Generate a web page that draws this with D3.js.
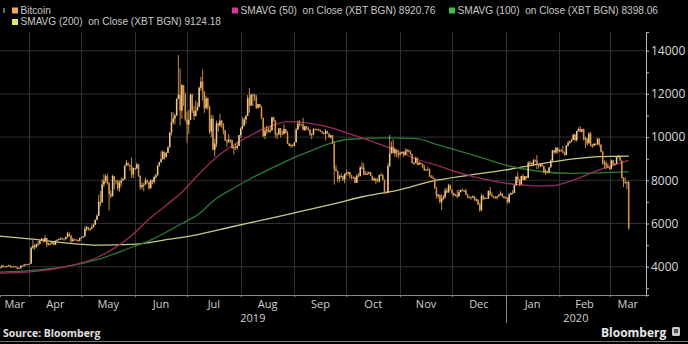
<!DOCTYPE html>
<html><head><meta charset="utf-8">
<script src="https://cdn.jsdelivr.net/npm/d3@7"></script>
<style>
body{margin:0;background:#000;}
svg{display:block;font-family:"Open Sans","DejaVu Sans",sans-serif;}
</style>
</head><body>
<svg id="chart" width="688" height="344"></svg>
<script>
// ---------------- DATA ----------------
const startDate = "2019-03-15";
// daily closes (USD), 2019-03-15 .. 2020-03-12
const closes = [
 3960,4050,4000,3990,4030,4060,3990,4000,4010,3990,3910,3930,4050,4030,4100,4110,4110,
 4140,4880,4970,4900,5040,5060,5200,5290,5170,5330,5020,5060,5060,5130,5020,5200,5240,5280,5270,5310,5280,5370,5530,5420,5180,5260,5250,5240,5190,5320,
 5350,5400,5750,5830,5750,5750,5830,5940,6170,6360,7000,6970,7810,7980,8190,7880,7360,7260,8190,7990,7950,7630,7880,7990,8050,8670,8810,8720,8660,8270,8560,
 8550,8740,8210,7690,7780,7800,8000,7930,7630,8000,7920,8150,8230,8690,8840,8980,9320,9080,9270,9530,10210,10670,10860,11000,11780,11960,11220,12410,11960,10820,
 10580,10800,11960,11220,10970,11230,11400,12280,12570,12100,11340,11800,11390,10260,10850,9420,9700,10630,10530,10760,10590,10320,9840,9770,9880,9850,9480,9530,9500,9590,10090,
 10400,10520,10820,10980,11800,11460,11950,11970,11850,11350,11530,11380,10890,10050,10300,10360,10230,10310,10920,10760,10130,10130,10410,10140,10140,10370,10190,9700,9590,9630,9600,
 9760,10350,10620,10590,10580,10320,10490,10410,10340,10120,10140,10370,10360,10360,10310,10260,10190,10160,10280,10170,9990,10090,9690,8530,8430,8060,8180,8200,8040,8290,
 8340,8380,8230,8160,8150,7880,8210,8200,8590,8590,8260,8300,8300,8370,8210,8000,8070,7960,7950,8240,8230,8020,7470,7430,8660,9250,9550,9260,9430,9210,9200,
 9260,9320,9180,9340,9400,9340,9210,8810,8810,9040,8730,8810,8760,8620,8460,8490,8500,8180,8120,8080,7630,7280,7330,7000,7140,7220,7530,7440,7760,7570,
 7420,7320,7320,7250,7450,7550,7510,7520,7340,7220,7200,7190,7250,7070,7110,6880,6620,7280,7150,7190,7150,7510,7320,7250,7190,7200,7250,7320,7390,7250,7190,
 7200,6990,7340,7410,7410,7770,8160,8040,7810,8200,8020,8190,8110,8810,8810,8720,8930,8920,8700,8660,8740,8660,8380,8430,8370,8600,8910,9390,9290,9510,9350,
 9390,9340,9290,9180,9610,9730,9800,9870,10120,9860,10280,10370,10250,10370,9900,9930,9710,10160,9600,9610,9690,9660,9920,9650,9320,8790,8790,8670,8600,
 8530,8920,8760,8760,9080,9130,8910,8110,7920,7910,7910,5800
];
const highs = [
 3990,4060,4060,4020,4050,4090,4080,4020,4020,4020,4000,3950,4060,4060,4120,4140,4120,
 4170,4930,5240,5060,5060,5200,5230,5340,5300,5460,5340,5110,5120,5160,5140,5220,5270,5320,5380,5340,5310,5400,5620,5600,5480,5340,5300,5290,5250,5340,
 5400,5420,5880,5880,5840,5800,5960,6000,6180,6420,7330,7500,8050,8290,8270,8300,7920,7520,8260,8100,8000,8030,7990,8130,8130,8700,8950,8820,8720,9070,8580,
 8590,8820,8740,8210,7910,7880,8130,8040,7930,8040,8030,8220,8310,8690,8860,9350,9390,9320,9300,9580,10230,11160,11150,11080,11780,13800,13180,12450,12390,12060,
 11180,11250,12030,12000,11440,11700,11600,12340,12790,13130,12130,11920,11830,11460,11020,11020,9920,10760,10670,11080,10790,10650,10310,9900,10140,9900,9890,9630,9690,9760,10110,
 10460,10910,10910,11040,11950,12270,12010,12000,11990,11960,11530,11540,11450,10890,10440,10520,10460,10500,10930,10940,10790,10220,10430,10420,10300,10600,10380,10280,9730,9690,9670,
 9770,10440,10770,10780,10610,10900,10540,10520,10480,10380,10180,10420,10400,10390,10370,10350,10270,10240,10380,10300,10170,10090,10100,9800,8720,8460,8250,8330,8230,8330,
 8500,8400,8390,8210,8170,8170,8300,8330,8670,8830,8790,8420,8400,8400,8390,8210,8140,8120,8090,8260,8350,8300,8040,7490,8800,10100,9800,9890,9520,9430,9410,
 9310,9330,9340,9480,9470,9420,9380,9220,8850,9100,9050,8880,8820,8790,8710,8510,8620,8540,8240,8220,8110,7700,7380,7330,7350,7320,7650,7630,7840,7820,
 7570,7420,7370,7540,7570,7580,7620,7550,7610,7380,7270,7260,7310,7270,7170,7120,6960,7380,7340,7220,7180,7520,7690,7440,7270,7280,7270,7370,7500,7390,7280,
 7250,7210,7400,7430,7550,7780,8210,8400,8050,8210,8290,8190,8200,8880,8900,8820,9000,8970,9170,8750,8780,8810,8680,8530,8430,8600,8970,9400,9410,9540,9530,
 9440,9450,9600,9340,9640,9830,9840,9930,10130,10160,10300,10450,10510,10380,10390,10020,9970,10230,10240,9680,9730,9700,9960,9950,9660,9370,8930,8900,8790,
 8630,8970,8900,8790,9120,9170,9160,8910,8150,8140,7950,7970
];
const lows = [
 3920,3950,3980,3970,3980,4020,3950,3980,3990,3970,3880,3900,3920,4010,4020,4090,4080,
 4100,4140,4800,4780,4880,4950,5030,5180,5110,5140,4900,4980,5020,5040,4990,5000,5180,5220,5240,5250,5200,5260,5340,5390,5100,5160,5200,5210,5140,5180,
 5310,5350,5400,5650,5670,5660,5740,5860,5940,6140,6360,6800,6970,7680,7860,7800,6600,7180,7270,7580,7810,7510,7470,7710,7970,8030,8670,8650,8440,8100,8100,
 8470,8520,8160,7560,7590,7490,7800,7840,7560,7640,7810,7840,8060,8220,8630,8820,8950,8960,9060,9270,9530,10070,10590,10580,10980,11740,10550,10850,11440,10730,
 9740,10150,10790,11110,10800,11040,11250,11390,12150,11680,11120,11280,11260,10150,9990,9380,9100,9540,10250,10480,10430,10120,9830,9550,9760,9720,9470,9200,9400,9420,9590,
 9960,10360,10520,10620,11000,11130,11440,11440,11680,11300,11330,11380,10830,10000,9900,10120,10200,10220,10300,10720,9980,9910,10080,9980,10100,10140,10170,9670,9580,9510,9530,
 9590,9750,10320,10480,10530,10320,10290,10340,10290,10050,9900,10080,10320,10320,10270,10240,10150,10130,9840,10150,9970,9920,9680,7800,8400,7900,7920,8120,7970,7860,
 8210,8220,8080,8040,8060,7870,7880,8150,8170,8500,8230,8260,8250,8270,8200,7980,7970,7840,7930,7900,8190,8000,7410,7370,7450,8620,9240,9240,9090,9070,9010,
 9100,9220,9080,9150,9180,9290,9170,8770,8720,8790,8700,8700,8730,8580,8430,8450,8470,8150,8090,8060,7620,7150,7160,6930,6620,7080,7150,7390,7430,7530,
 7310,7250,7270,7150,7250,7440,7500,7450,7320,7170,7150,7110,7230,7060,7030,6860,6540,6560,7080,7120,7130,7140,7300,7230,7160,7170,7120,7250,7310,7210,7150,
 7170,6920,6930,7320,7360,7410,7760,7880,7740,7780,8010,7990,8080,8100,8670,8650,8690,8820,8520,8540,8600,8630,8310,8260,8310,8320,8580,8880,9230,9220,9240,
 9300,9320,9250,9130,9160,9570,9690,9760,9860,9800,9790,10250,10230,10210,9840,9500,9600,9700,9570,9500,9570,9610,9650,9570,9290,8730,8550,8500,8570,
 8480,8520,8660,8690,8760,9040,8880,8090,7690,7820,7580,5700
];

const sma50Dates = ["2019-03-15","2019-04-03","2019-04-22","2019-05-11","2019-05-30","2019-06-09","2019-06-19","2019-06-28","2019-07-08","2019-07-17","2019-07-27","2019-08-06","2019-08-16","2019-08-29","2019-09-10","2019-09-23","2019-10-03","2019-10-24","2019-11-12","2019-11-24","2019-12-03","2019-12-22","2020-01-11","2020-01-27","2020-02-09","2020-02-24","2020-03-12"];
const sma50Values = [3700,3770,4000,4460,5450,6200,6850,7450,8300,9000,9600,10050,10450,10720,10640,10420,10150,9560,8940,8650,8400,8010,7780,7740,8010,8480,8920];

const sma100Dates = ["2019-03-15","2019-04-03","2019-04-22","2019-05-11","2019-05-30","2019-06-09","2019-06-19","2019-06-28","2019-07-08","2019-07-17","2019-07-27","2019-08-06","2019-08-16","2019-08-29","2019-09-10","2019-09-23","2019-10-03","2019-10-27","2019-11-10","2019-11-23","2019-12-01","2019-12-12","2019-12-20","2020-01-01","2020-01-20","2020-02-08","2020-02-24","2020-03-12"];
const sma100Values = [3750,3830,4000,4350,4900,5200,5600,6000,6450,7100,7600,8050,8450,8950,9350,9750,9900,9960,9930,9640,9450,9200,9000,8700,8420,8320,8340,8398];

const sma200Dates = ["2019-03-15","2019-04-03","2019-04-22","2019-05-11","2019-05-30","2019-06-19","2019-07-08","2019-07-27","2019-08-16","2019-09-04","2019-09-23","2019-10-11","2019-10-31","2019-11-19","2019-12-12","2020-01-01","2020-01-20","2020-02-08","2020-02-24","2020-03-12"];
const sma200Values = [5420,5280,5100,5000,5030,5250,5500,5850,6200,6550,6900,7250,7550,7950,8250,8480,8750,8980,9100,9124];

const yTickValues = [3000,4000,5000,6000,7000,8000,9000,10000,11000,12000,13000,14000];
const yLabelValues = [4000,6000,8000,10000,12000,14000];
const monthLabels = ["Mar","Apr","May","Jun","Jul","Aug","Sep","Oct","Nov","Dec","Jan","Feb","Mar"];
const yearLabels = ["2019","2020"];
const legendTexts = ["Bitcoin","SMAVG (50)  on Close (XBT BGN) 8920.76","SMAVG (100)  on Close (XBT BGN) 8398.06","SMAVG (200)  on Close (XBT BGN) 9124.18"];
const sourceText = "Source: Bloomberg";
const brandText = "Bloomberg";

// ---------------- DRAW ----------------
const svg = d3.select("#chart");
const W = 688, H = 344;
const L = 0, R = 646, T = 32, B = 295;
const parse = d3.utcParse("%Y-%m-%d");
const d0 = parse(startDate);

const x = d3.scaleUtc().domain([parse("2019-03-15"), parse("2020-03-22")]).range([L, R]);
const y = d3.scaleLinear().domain([2690, 14866]).range([B, T]);

svg.append("rect").attr("width", W).attr("height", H).attr("fill", "#000");

const defs = svg.append("defs");
defs.append("clipPath").attr("id", "plotclip").append("rect")
  .attr("x", L).attr("y", T).attr("width", R - L).attr("height", B - T);

const monthStarts = d3.utcMonth.range(parse("2019-04-01"), parse("2020-03-22"));

// gridlines
const grid = svg.append("g");
grid.selectAll("line.h").data(yLabelValues).join("line")
  .attr("x1", L).attr("x2", R).attr("y1", d => y(d)).attr("y2", d => y(d))
  .attr("stroke", "#303030").attr("stroke-width", 1);
grid.selectAll("line.v").data(monthStarts).join("line")
  .attr("x1", d => Math.round(x(d)) + 0.5).attr("x2", d => Math.round(x(d)) + 0.5)
  .attr("y1", T).attr("y2", B)
  .attr("stroke", "#303030").attr("stroke-width", 1);

const plot = svg.append("g").attr("clip-path", "url(#plotclip)");

// moving averages
const lineGen = d3.line().x(p => x(p[0])).y(p => y(p[1])).curve(d3.curveMonotoneX);
function smaLine(dates, vals, color) {
  const pts = dates.map((d, i) => [parse(d), vals[i]]);
  plot.append("path").datum(pts)
    .attr("fill", "none").attr("stroke", color).attr("stroke-width", 1.3)
    .attr("d", lineGen);
}
smaLine(sma200Dates, sma200Values, "#c9c98a");
smaLine(sma100Dates, sma100Values, "#2a7a36");
smaLine(sma50Dates, sma50Values, "#9c2a62");

// candles
const candles = closes.map((c, i) => ({
  date: d3.utcDay.offset(d0, i),
  open: i > 0 ? closes[i - 1] : c,
  close: c, high: highs[i], low: lows[i]
}));
const cg = plot.append("g");
cg.selectAll("line").data(candles).join("line")
  .attr("x1", d => x(d.date)).attr("x2", d => x(d.date))
  .attr("y1", d => y(Math.max(d.high, d.open, d.close)))
  .attr("y2", d => y(Math.min(d.low, d.open, d.close)))
  .attr("stroke", "#d69a50").attr("stroke-width", 0.9);
cg.selectAll("rect").data(candles).join("rect")
  .attr("x", d => x(d.date) - 0.75).attr("width", 1.5)
  .attr("y", d => y(Math.max(d.open, d.close)))
  .attr("height", d => Math.max(0.8, Math.abs(y(d.open) - y(d.close))))
  .attr("fill", d => d.close >= d.open ? "#ecca96" : "#da9444");

// right axis
const yAxis = svg.append("g").attr("transform", `translate(${R},0)`)
  .call(d3.axisRight(y).tickValues(yTickValues).tickSizeOuter(0).tickSize(3).tickPadding(2)
    .tickFormat(d => yLabelValues.includes(d) ? String(d) : ""));
yAxis.select(".domain").attr("stroke", "#b8b8b8");
yAxis.selectAll(".tick line").attr("stroke", "#b8b8b8");
yAxis.selectAll(".tick text").attr("fill", "#d8d8d8").style("font-size", "12px")
  .style("font-family", "'Open Sans','DejaVu Sans',sans-serif");

// bottom axis
const xAxis = svg.append("g").attr("transform", `translate(0,${B})`)
  .call(d3.axisBottom(x).tickValues(monthStarts).tickSizeOuter(0).tickSize(2).tickFormat(""));
xAxis.select(".domain").attr("stroke", "#8a8a8a");
xAxis.selectAll(".tick line").attr("stroke", "#8a8a8a");

// month labels centred in each visible month
const monthBounds = [x.domain()[0], ...monthStarts, x.domain()[1]];
const lab = svg.append("g").style("font-size", "11px").attr("fill", "#d0d0d0").attr("text-anchor", "middle");
monthLabels.forEach((m, i) => {
  const cx = (x(monthBounds[i]) + x(monthBounds[i + 1])) / 2;
  lab.append("text").attr("x", cx).attr("y", 308).text(m);
});
const yearStart = parse("2020-01-01");
const yearBounds = [[x.domain()[0], yearStart], [yearStart, x.domain()[1]]];
yearLabels.forEach((yl, i) => {
  lab.append("text").attr("x", (x(yearBounds[i][0]) + x(yearBounds[i][1])) / 2).attr("y", 322).text(yl);
});
svg.append("line").attr("x1", Math.round(x(yearStart)) + 0.5).attr("x2", Math.round(x(yearStart)) + 0.5)
  .attr("y1", B).attr("y2", 323).attr("stroke", "#8a8a8a");

// legend
const legendColors = ["#f0a860", "#e0309a", "#3cc040", "#e4e460"];
const legendPos = [[12, 7.5], [232, 7.5], [449, 7.5], [12, 19]];
const lg = svg.append("g").style("font-size", "10.1px").attr("fill", "#c8c8c8")
  .style("font-family", "'Liberation Sans',Arial,sans-serif");
svg.append("rect").attr("x", 3).attr("y", 8).attr("width", 2).attr("height", 5).attr("fill", "#666");
legendTexts.forEach((t, i) => {
  const [lx, ly] = legendPos[i];
  lg.append("rect").attr("x", lx).attr("y", ly).attr("width", 6).attr("height", 6).attr("fill", legendColors[i]);
  lg.append("text").attr("x", lx + 8.5).attr("y", ly + 6.2).style("white-space", "pre").text(t);
});

// footer
svg.append("text").attr("x", 3).attr("y", 337).style("font-size", "10.4px").style("font-weight", "bold")
  .attr("fill", "#e0e0e0").text(sourceText);
svg.append("text").attr("x", 601).attr("y", 337).style("font-size", "12px").style("font-weight", "bold")
  .attr("fill", "#e8e8e8").text(brandText);
svg.append("rect").attr("x", 672).attr("y", 327).attr("width", 8).attr("height", 9).attr("rx", 1.5).attr("fill", "#c8c8c8");
svg.append("rect").attr("x", 674).attr("y", 329).attr("width", 4).attr("height", 4).attr("fill", "#555");
svg.append("line").attr("x1", 0).attr("x2", W).attr("y1", 341.5).attr("y2", 341.5).attr("stroke", "#777");
</script>
</body></html>
